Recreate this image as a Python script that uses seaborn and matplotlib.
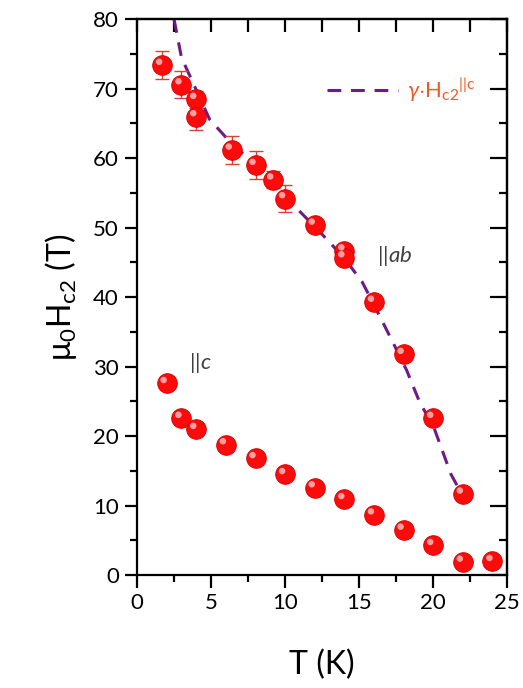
import numpy as np
import pandas as pd
import matplotlib
matplotlib.use("Agg")
import matplotlib.pyplot as plt
import matplotlib.transforms as mtransforms
from matplotlib.ticker import MultipleLocator
import seaborn as sns

# ---- data ----
T_ab = [1.7, 3.0, 4.0, 4.0, 6.4, 8.0, 9.2, 10.0, 12.0, 14.0, 14.0, 16.0, 18.0, 20.0, 22.0]
H_ab = [73.4, 70.6, 68.5, 66.0, 61.2, 59.0, 56.9, 54.2, 50.4, 46.7, 45.7, 39.3, 31.8, 22.6, 11.7]
E_ab = [2.0, 1.9, 1.2, 2.0, 2.0, 2.0, 1.2, 2.0, 0.5, 0.5, 0.5, 0.5, 0.5, 0.5, 0.5]

T_c = [2, 3, 4, 6, 8, 10, 12, 14, 16, 18, 20, 22, 24]
H_c = [27.6, 22.6, 21.0, 18.8, 16.8, 14.5, 12.6, 10.9, 8.7, 6.5, 4.3, 1.9, 2.0]

T_gam = [2.5, 3.0, 4.9, 6.3, 8.4, 10.5, 12.3, 14.0, 15.2, 16.0, 17.3, 18.2, 19.1, 20.0, 21.2, 22.0]
H_gam = [80.0, 74.5, 65.6, 62.3, 58.2, 53.4, 49.5, 45.6, 42.2, 38.9, 33.4, 29.5, 24.8, 21.5, 14.5, 11.4]

xticks = [0, 5, 10, 15, 20, 25]
yticks = [0, 10, 20, 30, 40, 50, 60, 70, 80]

df_ab = pd.DataFrame({"T": T_ab, "H": H_ab})
df_c = pd.DataFrame({"T": T_c, "H": H_c})
df_g = pd.DataFrame({"T": T_gam, "H": H_gam})

sns.set_style("white")
plt.rcParams["font.family"] = ["Lato", "DejaVu Sans"]
plt.rcParams["mathtext.fontset"] = "custom"
plt.rcParams["mathtext.rm"] = "Lato"
plt.rcParams["mathtext.it"] = "Lato:italic"
plt.rcParams["text.color"] = "black"
plt.rcParams["axes.labelcolor"] = "black"
plt.rcParams["xtick.color"] = "black"
plt.rcParams["ytick.color"] = "black"

fig = plt.figure(figsize=(5.23, 6.88), dpi=100)
ax = fig.add_axes([0.262, 0.164, 0.708, 0.808])

purple = "#6E1B86"
red = "#FF0A0A"

line, = ax.plot(df_g["T"], df_g["H"], color=purple, lw=2.2, dashes=(4.5, 3.2), zorder=2,
                label=r"$\gamma{\cdot}\mathregular{H_{c2}{}^{||c}}$")

ax.errorbar(T_ab, H_ab, yerr=E_ab, fmt="none", ecolor="#D9403A", elinewidth=1.0,
            capsize=5, capthick=1.0, zorder=3)

for d in (df_ab, df_c):
    sns.scatterplot(data=d, x="T", y="H", ax=ax, s=200, color=red, edgecolor="#D00000",
                    linewidth=0.6, zorder=4, legend=False)
    hl = ax.transData + mtransforms.ScaledTranslation(-2.2 / 72, 2.4 / 72, fig.dpi_scale_trans)
    sns.scatterplot(data=d, x="T", y="H", ax=ax, s=22, color="#FFB0B0", edgecolor="none",
                    linewidth=0, zorder=5, legend=False, transform=hl, alpha=0.9)

ax.set_xlim(0, 25)
ax.set_ylim(0, 80)
ax.set_xticks(xticks)
ax.set_yticks(yticks)
ax.xaxis.set_minor_locator(MultipleLocator(2.5))
ax.yaxis.set_minor_locator(MultipleLocator(5))
ax.tick_params(which="both", bottom=True, left=True, top=False, right=False)
ax.tick_params(which="major", direction="out", length=9, width=1.6, labelsize=16, pad=4,
               colors="black")
ax.tick_params(which="minor", direction="out", length=5, width=1.6, colors="black")

secx = ax.secondary_xaxis("top")
secx.set_xticks(xticks)
secx.xaxis.set_minor_locator(MultipleLocator(2.5))
secx.tick_params(which="both", top=True, direction="in", length=9, width=1.6, labeltop=False,
                 colors="black")
secy = ax.secondary_yaxis("right")
secy.set_yticks(yticks)
secy.yaxis.set_minor_locator(MultipleLocator(5))
secy.tick_params(which="major", right=True, direction="in", length=12, width=1.6,
                 labelright=False, colors="black")
secy.tick_params(which="minor", right=True, direction="in", length=6, width=1.6, colors="black")
for a in (secx, secy):
    for s in a.spines.values():
        s.set_linewidth(1.6)
        s.set_color("black")

for s in ax.spines.values():
    s.set_linewidth(1.6)
    s.set_color("black")

ax.set_xlabel("T (K)", fontsize=23, labelpad=26)
ax.set_ylabel(r"$\mathregular{\mu_0H_{c2}}$ (T)", fontsize=23, labelpad=10)

ax.text(16.2, 46.0, r"$\mathregular{||}\mathit{ab}$", fontsize=16, color="#404040", va="center")
ax.text(3.5, 30.6, r"$\mathregular{||}\mathit{c}$", fontsize=16, color="#404040", va="center")

leg = ax.legend(handles=[line], loc="center left", bbox_to_anchor=(0.46, 0.872), frameon=False,
                handlelength=3.2, handletextpad=0.4, fontsize=16, labelcolor="#F05A28")

fig.savefig("out.png", dpi=100)
